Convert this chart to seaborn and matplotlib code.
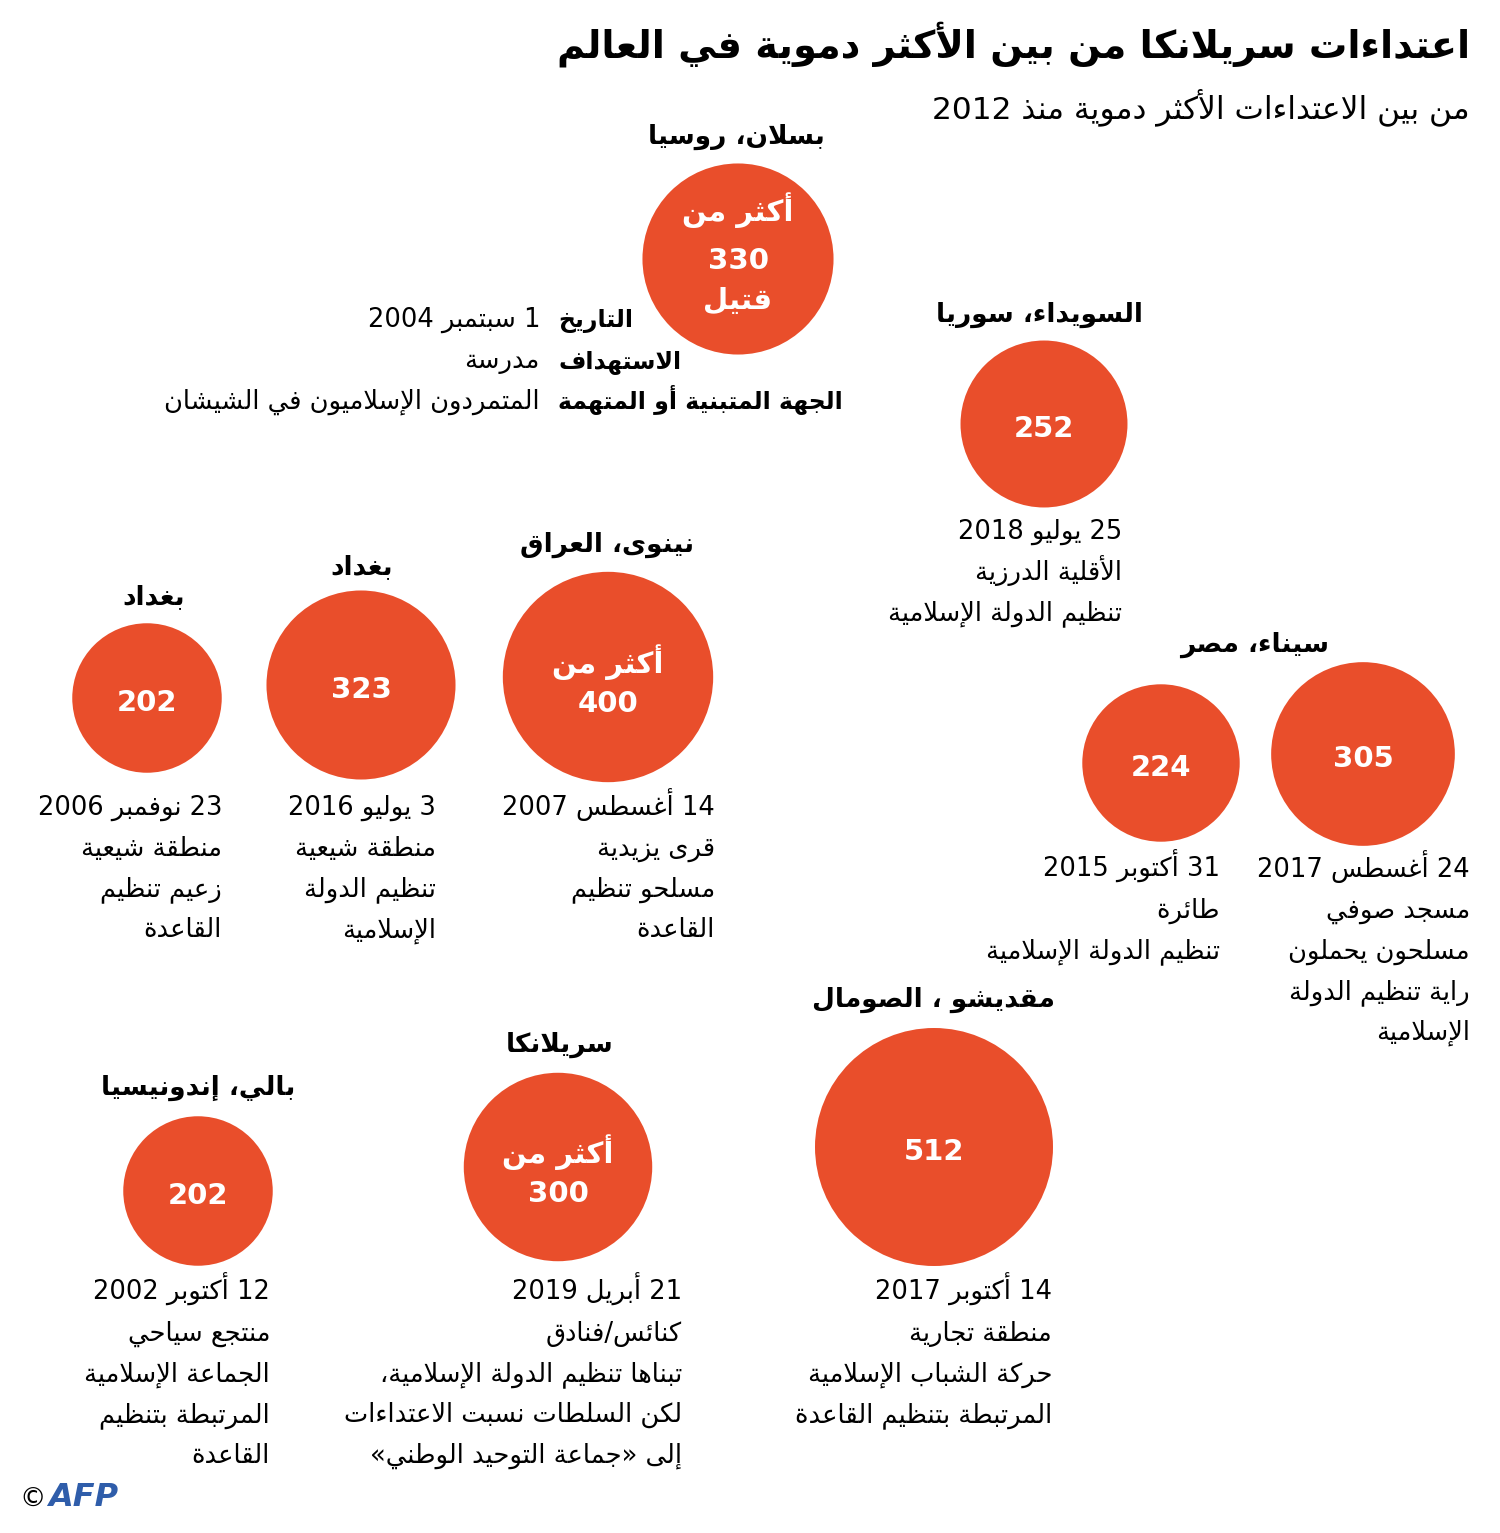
#%% AFP infographic: deadliest attacks %%#
# Bubble chart, area ~ death toll, Arabic labels
#================================#

import re
import matplotlib
matplotlib.use('Agg')
import matplotlib.pyplot as plt
import seaborn as sns
import pandas as pd

#%% Data %%#
#================================#
title = 'اعتداءات سريلانكا من بين الأكثر دموية في العالم'
subtitle = 'من بين الاعتداءات الأكثر دموية منذ 2012'

places = ['بسلان، روسيا', 'السويداء، سوريا', 'نينوى، العراق', 'بغداد', 'بغداد',
          'سيناء، مصر', 'مقديشو ، الصومال', 'سريلانكا', 'بالي، إندونيسيا']

# one entry per circle
tolls = [330, 252, 400, 323, 202, 305, 224, 512, 300, 202]
toll_area = [330, 252, 400, 323, 202, 305, 224, 512, 321, 202]   # area as drawn
lab_top = ['أكثر من', '', 'أكثر من', '', '', '', '', '', 'أكثر من', '']
lab_bot = ['قتيل', '', '', '', '', '', '', '', '', '']

dates = ['1 سبتمبر 2004', '25 يوليو 2018', '14 أغسطس 2007', '3 يوليو 2016',
         '23 نوفمبر 2006', '24 أغسطس 2017', '31 أكتوبر 2015', '14 أكتوبر 2017',
         '21 أبريل 2019', '12 أكتوبر 2002']
targets = ['مدرسة', 'الأقلية الدرزية', 'قرى يزيدية', 'منطقة شيعية', 'منطقة شيعية',
           'مسجد صوفي', 'طائرة', 'منطقة تجارية', 'كنائس/فنادق', 'منتجع سياحي']
claimed = [['المتمردون الإسلاميون في الشيشان'],
           ['تنظيم الدولة الإسلامية'],
           ['مسلحو تنظيم', 'القاعدة'],
           ['تنظيم الدولة', 'الإسلامية'],
           ['زعيم تنظيم', 'القاعدة'],
           ['مسلحون يحملون', 'راية تنظيم الدولة', 'الإسلامية'],
           ['تنظيم الدولة الإسلامية'],
           ['حركة الشباب الإسلامية', 'المرتبطة بتنظيم القاعدة'],
           ['تبناها تنظيم الدولة الإسلامية،', 'لكن السلطات نسبت الاعتداءات',
            'إلى «جماعة التوحيد الوطني»'],
           ['الجماعة الإسلامية', 'المرتبطة بتنظيم', 'القاعدة']]
key_labels = ['التاريخ', 'الاستهداف', 'الجهة المتبنية أو المتهمة']

#---- Layout (pixels) ----#
cx = [738, 1044, 608, 361, 147, 1363, 1161, 934, 558, 198]
cy = [259, 424, 677, 685, 698, 754, 763, 1147, 1167, 1191]
tx = [540, 1122, 715, 436, 222, 1470, 1220, 1052, 682, 270]   # right edge of details
ty = [317, 529, 805, 805, 805, 867, 867, 1290, 1290, 1290]
hx = [736, 1039, 607, 362, 154, 1255, 933, 560, 198]
hy = [137, 315, 545, 567, 597, 645, 1000, 1045, 1088]

red = '#E94E2B'
afp_blue = '#2F5DAA'
lh = 40.7
fs_body = 18.5
base = 10   # baseline offset below line centre

#%% Arabic shaping (matplotlib has no complex text layout) %%#
#================================#
dual = dict(zip('ئبتثجحخسشصضطظعغفقكلمنهي',
                [0xFE89, 0xFE8F, 0xFE95, 0xFE99, 0xFE9D, 0xFEA1, 0xFEA5, 0xFEB1, 0xFEB5,
                 0xFEB9, 0xFEBD, 0xFEC1, 0xFEC5, 0xFEC9, 0xFECD, 0xFED1, 0xFED5, 0xFED9,
                 0xFEDD, 0xFEE1, 0xFEE5, 0xFEE9, 0xFEF1]))
right = dict(zip('آأؤإاةدذرزوى',
                 [0xFE81, 0xFE83, 0xFE85, 0xFE87, 0xFE8D, 0xFE93, 0xFEA9, 0xFEAB, 0xFEAD,
                  0xFEAF, 0xFEED, 0xFEEF]))
lamalef = {'آ': 0xFEF5, 'أ': 0xFEF7, 'إ': 0xFEF9, 'ا': 0xFEFB}
mirror = {'«': '»', '»': '«', '(': ')', ')': '('}


def jtype(c):
    if c in dual:
        return 'D'
    if c in right:
        return 'R'
    return 'U'


def ar(txt):
    out = []
    i, n = 0, len(txt)
    while i < n:
        c = txt[i]
        prev = i > 0 and jtype(txt[i - 1]) == 'D'
        if c == 'ل' and i + 1 < n and txt[i + 1] in lamalef:
            out.append(chr(lamalef[txt[i + 1]] + (1 if prev else 0)))
            i += 2
            continue
        t = jtype(c)
        if t == 'U':
            out.append('\uFE80' if c == 'ء' else mirror.get(c, c))
        else:
            nxt = t == 'D' and i + 1 < n and jtype(txt[i + 1]) in 'DR'
            b = dual.get(c, right.get(c))
            off = 3 if (prev and nxt) else 1 if prev else 2 if nxt else 0
            out.append(chr(b + off))
        i += 1
    # visual order: reverse, but keep digit runs left-to-right
    toks = re.findall(r'[0-9A-Za-z]+|.', ''.join(out))
    return ''.join(toks[::-1])


#%% Plot %%#
#================================#
sns.set_theme(style='white')
plt.rcParams['font.family'] = ['DejaVu Sans']
plt.rcParams['text.color'] = 'black'

fig = plt.figure(figsize=(15, 15.33), dpi=100)
ax = fig.add_axes([0, 0, 1, 1])

df = pd.DataFrame({'x': cx, 'y': cy, 'toll': toll_area})
s512 = (238 * 0.72) ** 2
sns.scatterplot(data=df, x='x', y='y', size='toll', sizes=(0, s512), size_norm=(0, 512),
                color=red, linewidth=0, alpha=1, legend=False, ax=ax)
ax.set_xlim(0, 1500)
ax.set_ylim(1533, 0)
ax.axis('off')

#---- Titles ----#
ax.text(1470, 44, ar(title), ha='right', va='center', fontsize=27.5, fontweight='bold')
ax.text(1470, 107, ar(subtitle), ha='right', va='center', fontsize=22.5)

#---- Place headings ----#
for p, x, y in zip(places, hx, hy):
    ax.text(x, y, ar(p), ha='center', va='center', fontsize=19, fontweight='bold')

#---- Circle labels ----#
for i in range(len(tolls)):
    x, y = cx[i], cy[i]
    if lab_bot[i]:
        rows = [lab_top[i], str(tolls[i]), lab_bot[i]]
        ys = [y - 49, y + 2, y + 42]
    elif lab_top[i]:
        rows = [lab_top[i], str(tolls[i])]
        ys = [y - 15, y + 27]
    else:
        rows = [str(tolls[i])]
        ys = [y + 5]
    for r, yy in zip(rows, ys):
        ax.text(x, yy, ar(r), ha='center', va='center', fontsize=21,
                fontweight='bold', color='white')

#---- Details ----#
for i in range(len(tolls)):
    lines = [dates[i], targets[i]] + claimed[i]
    if i == 0:
        for k, (lab, val) in enumerate(zip(key_labels, lines)):
            ax.text(558, ty[0] + k * lh + base, ar(lab), ha='left', va='baseline',
                    fontsize=17, fontweight='bold')
            ax.text(tx[0], ty[0] + k * lh + base, ar(val), ha='right', va='baseline',
                    fontsize=fs_body)
        continue
    for k, line in enumerate(lines):
        ax.text(tx[i], ty[i] + k * lh + base, ar(line), ha='right', va='baseline',
                fontsize=fs_body)

#---- Credit ----#
ax.text(19, 1500, '©', ha='left', va='center', fontsize=19)
ax.text(48, 1498, 'AFP', ha='left', va='center', fontsize=23, fontweight='bold',
        fontstyle='italic', color=afp_blue)

fig.savefig('out.png', dpi=100)
